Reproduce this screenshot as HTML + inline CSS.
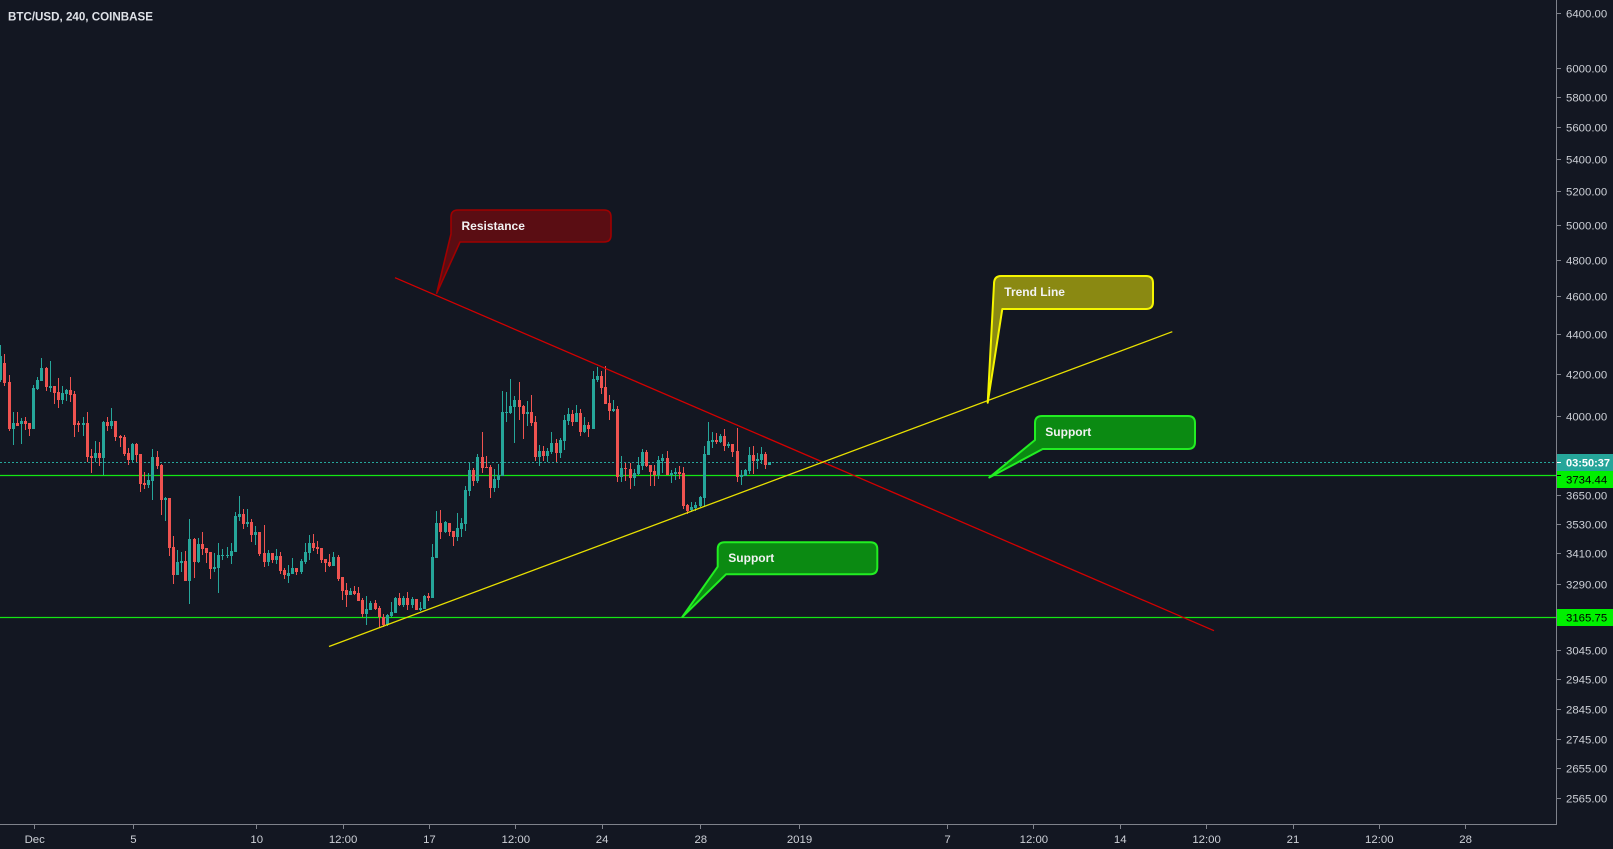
<!DOCTYPE html>
<html><head><meta charset="utf-8">
<style>
html,body{margin:0;padding:0;background:#131722;overflow:hidden;}
svg{display:block;}
text{font-family:"Liberation Sans",Arial,sans-serif;}
.ax{font-size:11.4px;fill:#cdd0d7;}
.cl{font-size:12px;font-weight:bold;fill:#f2f2f2;}
</style></head><body>
<svg id="c" width="1613" height="849" viewBox="0 0 1613 849" xmlns="http://www.w3.org/2000/svg">
<rect x="0" y="0" width="1613" height="849" fill="#131722"/>

<!-- horizontal lines -->
<line x1="0" y1="462.5" x2="1557" y2="462.5" stroke="#26a69a" stroke-width="1" stroke-dasharray="2 2"/>
<line x1="0" y1="475.5" x2="1557" y2="475.5" stroke="#14e614" stroke-width="1.2"/>
<line x1="0" y1="617.5" x2="1557" y2="617.5" stroke="#14e614" stroke-width="1.2"/>

<g id="candles"></g>

<!-- trend lines -->
<line x1="395" y1="277.7" x2="1214" y2="630.7" stroke="#d40000" stroke-width="1.3"/>
<line x1="329" y1="646.5" x2="1172.3" y2="331.7" stroke="#e8e000" stroke-width="1.3"/>

<!-- Resistance callout -->
<path d="M458,210 L604,210 Q611,210 611,217 L611,235 Q611,242 604,242 L460,242 L436.7,293.3 L451,234 L451,217 Q451,210 458,210 Z" fill="#5a0d13" stroke="#a00000" stroke-width="1.6" stroke-linejoin="round"/>
<text class="cl" x="461.5" y="230">Resistance</text>

<!-- Trend Line callout -->
<path d="M1001,276 L1146,276 Q1153,276 1153,283 L1153,302 Q1153,309 1146,309 L1002.3,309 L987.7,402.7 L994,284 Q994,276 1001,276 Z" fill="#8a8912" stroke="#f5f500" stroke-width="2" stroke-linejoin="round"/>
<text class="cl" x="1004.3" y="296">Trend Line</text>

<!-- Support (upper) callout -->
<path d="M1042,416 L1188,416 Q1195,416 1195,423 L1195,442 Q1195,449 1188,449 L1042.7,449 L989.3,477.5 L1035,440 L1035,423 Q1035,416 1042,416 Z" fill="#0b8a12" stroke="#22ee22" stroke-width="2" stroke-linejoin="round"/>
<text class="cl" x="1045.3" y="436">Support</text>

<!-- Support (lower) callout -->
<path d="M724.7,542.3 L870.3,542.3 Q877.3,542.3 877.3,549.3 L877.3,567.3 Q877.3,574.3 870.3,574.3 L726,574.3 L682.3,617 L717.7,566.7 L717.7,549.3 Q717.7,542.3 724.7,542.3 Z" fill="#0b8a12" stroke="#22ee22" stroke-width="2" stroke-linejoin="round"/>
<text class="cl" x="728.3" y="562">Support</text>

<!-- axes -->
<line x1="1556.5" y1="0" x2="1556.5" y2="824.5" stroke="#7f828b" stroke-width="1"/>
<line x1="0" y1="824.5" x2="1557" y2="824.5" stroke="#7f828b" stroke-width="1"/>

<!-- price axis ticks -->
<g stroke="#7f828b" stroke-width="1">
<line x1="1557" y1="13.5" x2="1561" y2="13.5"/>
<line x1="1557" y1="68.5" x2="1561" y2="68.5"/>
<line x1="1557" y1="97.5" x2="1561" y2="97.5"/>
<line x1="1557" y1="127.5" x2="1561" y2="127.5"/>
<line x1="1557" y1="159.5" x2="1561" y2="159.5"/>
<line x1="1557" y1="191.5" x2="1561" y2="191.5"/>
<line x1="1557" y1="225.5" x2="1561" y2="225.5"/>
<line x1="1557" y1="260.5" x2="1561" y2="260.5"/>
<line x1="1557" y1="296.5" x2="1561" y2="296.5"/>
<line x1="1557" y1="334.5" x2="1561" y2="334.5"/>
<line x1="1557" y1="374.5" x2="1561" y2="374.5"/>
<line x1="1557" y1="416.5" x2="1561" y2="416.5"/>
<line x1="1557" y1="495.5" x2="1561" y2="495.5"/>
<line x1="1557" y1="524.5" x2="1561" y2="524.5"/>
<line x1="1557" y1="553.5" x2="1561" y2="553.5"/>
<line x1="1557" y1="584.5" x2="1561" y2="584.5"/>
<line x1="1557" y1="650.5" x2="1561" y2="650.5"/>
<line x1="1557" y1="679.5" x2="1561" y2="679.5"/>
<line x1="1557" y1="709.5" x2="1561" y2="709.5"/>
<line x1="1557" y1="739.5" x2="1561" y2="739.5"/>
<line x1="1557" y1="768.5" x2="1561" y2="768.5"/>
<line x1="1557" y1="798.5" x2="1561" y2="798.5"/>
</g>

<!-- price labels -->
<g>
<text class="ax" x="1566" y="17.5">6400.00</text>
<text class="ax" x="1566" y="72.5">6000.00</text>
<text class="ax" x="1566" y="101.5">5800.00</text>
<text class="ax" x="1566" y="131.5">5600.00</text>
<text class="ax" x="1566" y="163.5">5400.00</text>
<text class="ax" x="1566" y="195.5">5200.00</text>
<text class="ax" x="1566" y="229.5">5000.00</text>
<text class="ax" x="1566" y="264.5">4800.00</text>
<text class="ax" x="1566" y="300.5">4600.00</text>
<text class="ax" x="1566" y="338.5">4400.00</text>
<text class="ax" x="1566" y="378.5">4200.00</text>
<text class="ax" x="1566" y="420.5">4000.00</text>
<text class="ax" x="1566" y="499.5">3650.00</text>
<text class="ax" x="1566" y="528.5">3530.00</text>
<text class="ax" x="1566" y="557.5">3410.00</text>
<text class="ax" x="1566" y="588.5">3290.00</text>
<text class="ax" x="1566" y="654.5">3045.00</text>
<text class="ax" x="1566" y="683.5">2945.00</text>
<text class="ax" x="1566" y="713.5">2845.00</text>
<text class="ax" x="1566" y="743.5">2745.00</text>
<text class="ax" x="1566" y="772.5">2655.00</text>
<text class="ax" x="1566" y="802.5">2565.00</text>
</g>

<!-- special price labels -->
<rect x="1557" y="454" width="56" height="17" fill="#26a69a"/>
<line x1="1557" y1="462.5" x2="1561" y2="462.5" stroke="#ffffff" stroke-width="1"/>
<text x="1566" y="466.5" style="font-size:11px;fill:#ffffff;font-weight:bold;">03:50:37</text>
<rect x="1557" y="471" width="56" height="17" fill="#00f000"/>
<line x1="1557" y1="475.5" x2="1561" y2="475.5" stroke="#000" stroke-width="1"/>
<text x="1566" y="483.5" style="font-size:11.4px;fill:#000000;">3734.44</text>
<rect x="1557" y="609" width="56" height="17" fill="#00f000"/>
<text x="1566" y="621.5" style="font-size:11.4px;fill:#000000;">3165.75</text>

<!-- time axis ticks -->
<g stroke="#7f828b" stroke-width="1">
<line x1="34.5" y1="825" x2="34.5" y2="829"/>
<line x1="133.5" y1="825" x2="133.5" y2="829"/>
<line x1="256.5" y1="825" x2="256.5" y2="829"/>
<line x1="343.5" y1="825" x2="343.5" y2="829"/>
<line x1="429.5" y1="825" x2="429.5" y2="829"/>
<line x1="515.5" y1="825" x2="515.5" y2="829"/>
<line x1="602.5" y1="825" x2="602.5" y2="829"/>
<line x1="700.5" y1="825" x2="700.5" y2="829"/>
<line x1="799.5" y1="825" x2="799.5" y2="829"/>
<line x1="947.5" y1="825" x2="947.5" y2="829"/>
<line x1="1033.5" y1="825" x2="1033.5" y2="829"/>
<line x1="1120.5" y1="825" x2="1120.5" y2="829"/>
<line x1="1206.5" y1="825" x2="1206.5" y2="829"/>
<line x1="1293.5" y1="825" x2="1293.5" y2="829"/>
<line x1="1379.5" y1="825" x2="1379.5" y2="829"/>
<line x1="1465.5" y1="825" x2="1465.5" y2="829"/>
</g>
<g text-anchor="middle">
<text class="ax" x="34.7" y="843">Dec</text>
<text class="ax" x="133.4" y="843">5</text>
<text class="ax" x="256.7" y="843">10</text>
<text class="ax" x="343.1" y="843">12:00</text>
<text class="ax" x="429.4" y="843">17</text>
<text class="ax" x="515.8" y="843">12:00</text>
<text class="ax" x="602.1" y="843">24</text>
<text class="ax" x="700.8" y="843">28</text>
<text class="ax" x="799.5" y="843">2019</text>
<text class="ax" x="947.5" y="843">7</text>
<text class="ax" x="1033.9" y="843">12:00</text>
<text class="ax" x="1120.2" y="843">14</text>
<text class="ax" x="1206.6" y="843">12:00</text>
<text class="ax" x="1293" y="843">21</text>
<text class="ax" x="1379.3" y="843">12:00</text>
<text class="ax" x="1465.6" y="843">28</text>
</g>

<!-- title -->
<text x="8" y="20.5" style="font-size:11.6px;font-weight:bold;fill:#dfe2e8;">BTC/USD, 240, COINBASE</text>
</svg>
<script>
(function(){
var d="T356,380,345,382;R363,383,354,386;R382,429,375,431;T423,429,412,445;R423,426,412,426;T421,424,418,444;R421,424,417,430;R423,429,423,436;T388,429,385,429;T380,389,377,390;T368,381,358,381;R368,387,367,391;T386,388,361,392;R386,393,386,404;R392,400,378,408;T393,400,386,404;T390,394,389,401;R390,395,377,402;R394,425,391,437;R423,425,421,432;T423,425,417,436;R423,457,412,462;R456,458,449,473;T453,458,441,462;R453,458,442,466;T422,458,421,475;R422,426,417,431;T421,426,408,429;R421,437,421,441;R436,438,435,447;R437,454,435,456;R453,460,448,465;T444,460,443,462;R444,455,443,462;R454,484,454,492;R483,485,472,489;T480,485,473,488;T457,481,449,500;R457,466,451,469;R465,500,464,515;T498,500,497,521;R498,548,498,556;R547,575,536,584;T562,575,550,575;T561,563,552,572;R561,581,551,581;T539,581,519,604;R539,562,538,578;T544,562,538,563;R544,549,532,555;R548,553,548,563;R552,569,552,579;T567,569,553,572;T555,568,543,593;T555,556,549,560;T555,556,547,558;T551,556,543,564;T516,552,512,552;T514,517,496,521;R514,524,509,529;T522,524,509,527;R522,535,519,542;T532,535,526,545;R532,554,532,556;R553,562,525,567;T553,562,550,566;R553,560,553,563;T556,560,549,564;R556,571,552,574;R570,575,568,579;T573,576,565,583;T568,574,558,574;R568,572,568,575;T561,572,559,574;T552,562,543,564;T543,553,535,560;R543,548,534,551;R547,549,541,554;R548,560,548,563;R559,563,559,572;R562,566,554,567;T557,566,552,566;R557,579,555,581;R577,591,577,600;R590,595,583,607;T591,595,588,595;R591,594,586,595;R593,601,587,601;R600,614,598,617;T609,614,596,625;T603,610,601,610;R603,609,600,610;R608,617,606,627;R617,625,614,627;T615,625,614,626;T612,616,602,617;T598,613,597,613;R598,605,593,606;T598,605,596,607;R598,605,592,610;T599,605,597,608;R599,610,599,610;T608,610,602,611;T596,609,595,609;R596,598,593,601;T557,598,544,598;T523,558,511,558;R523,532,510,539;T522,532,521,533;R523,532,523,536;R531,537,531,546;T528,537,513,541;T523,529,518,537;T490,524,486,531;T470,491,462,496;R470,481,468,486;T457,481,454,483;R457,468,432,473;R467,468,456,468;R467,488,465,498;T479,488,469,492;T475,480,464,488;T412,476,391,476;T412,413,392,422;T406,413,379,414;T400,407,396,443;R400,407,382,420;R406,414,405,439;T412,414,401,426;R412,423,395,426;R422,457,416,461;T451,457,445,466;R451,456,446,461;T451,456,448,462;T443,452,432,454;R443,453,439,462;T440,453,438,458;T420,441,415,450;T414,421,408,425;R414,422,410,426;T413,422,405,422;R413,432,409,436;T425,432,417,433;R425,429,422,437;T379,429,371,429;T376,380,367,382;R376,388,371,394;R387,404,366,404;R403,411,395,420;T409,411,400,412;R409,477,406,482;T468,477,456,482;R468,469,463,481;R469,478,463,489;T473,478,469,486;T465,474,457,475;T452,466,449,470;R452,466,450,467;R465,472,465,486;R471,475,465,486;T460,475,456,479;T458,461,454,473;R458,475,451,475;T473,475,470,483;T472,474,468,480;R472,474,466,479;R473,506,467,509;R505,511,504,514;T507,510,502,512;T505,508,502,511;T497,506,496,507;T454,498,446,507;T441,455,422,455;T440,442,432,448;R440,442,433,444;T436,442,434,443;R436,446,429,451;T444,446,442,448;R444,452,444,457;R451,477,428,482;T475,477,470,485;T470,476,469,476;T455,471,447,474;R455,461,446,474;T459,461,453,469;T454,460,447,464;R454,465,452,469;T462,465,462,465";
var arr=d.split(";");
var g=document.getElementById("candles");
var ns="http://www.w3.org/2000/svg";
var up="",dn="";
for(var i=0;i<arr.length;i++){
  var s=arr[i];var c=s.charAt(0);var v=s.substring(1).split(",").map(Number);
  var cx=Math.round(0.3+4.113*i);
  var bt=v[0],bb=v[1],wt=v[2],wb=v[3];
  if(bb-bt<1)bb=bt+1;
  var p="M"+cx+","+wt+"h1V"+wb+"h-1Z"+"M"+(cx-1)+","+bt+"h3V"+bb+"h-3Z";
  if(c==="T")up+=p;else dn+=p;
}
var p1=document.createElementNS(ns,"path");p1.setAttribute("d",up);p1.setAttribute("fill","#26a69a");g.appendChild(p1);
var p2=document.createElementNS(ns,"path");p2.setAttribute("d",dn);p2.setAttribute("fill","#ef5350");g.appendChild(p2);
})();
</script>
</body></html>
